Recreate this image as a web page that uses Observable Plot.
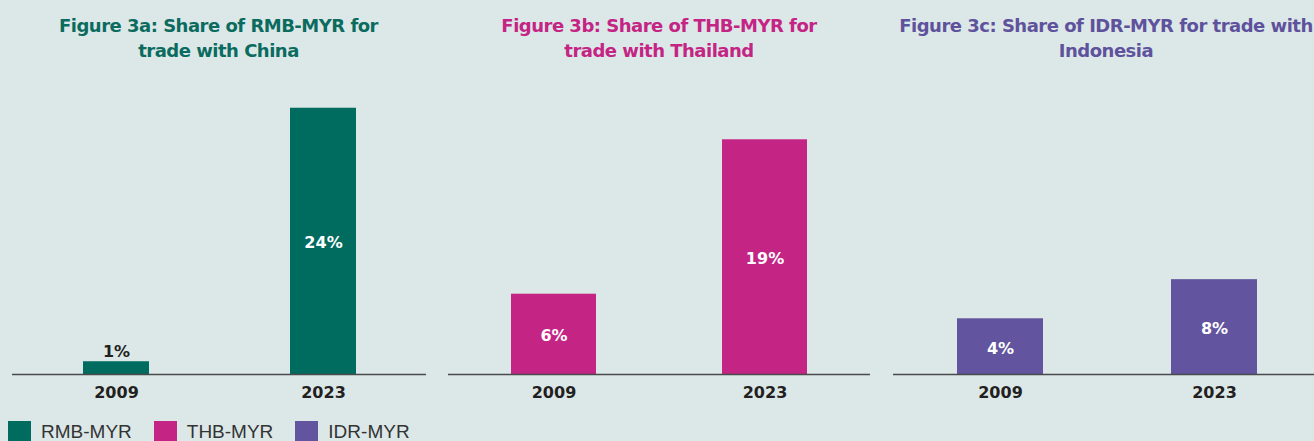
<!DOCTYPE html>
<html>
<head>
<meta charset="utf-8">
<script src="https://cdn.jsdelivr.net/npm/d3@7"></script>
<script src="https://cdn.jsdelivr.net/npm/@observablehq/plot@0.6"></script>
<style>
  html, body { margin: 0; padding: 0; background: #dce8e8; }
  #root { position: relative; width: 1314px; height: 441px; overflow: hidden; background: #dce8e8; }
  .title { position: absolute; top: 13px; width: 460px; text-align: center;
           font-family: "DejaVu Sans", sans-serif; font-weight: bold; font-size: 18px;
           letter-spacing: -0.5px; line-height: 25px; }
  .panel { position: absolute; top: 80px; }
  .panel svg { max-width: none !important; display: block; }
  .legend { position: absolute; left: 8px; top: 421px; display: flex; font-family: "Liberation Sans", Arial, sans-serif;
            font-size: 19px; color: #333; line-height: 19px; }
  .legend .item { display: flex; align-items: flex-start; margin-right: 22px; }
  .legend .sw { width: 23px; height: 23px; margin-right: 10px; }
  .legend span { position: relative; top: 1px; }
</style>
</head>
<body>
<div id="root"></div>
<script>
// ---- data ----
const years = ["2009", "2023"];
const rmbShare = [1.15, 24];
const thbShare = [6.5, 19];
const idrShare = [4.7, 8];
const rmbLabels = ["1%", "24%"];
const thbLabels = ["6%", "19%"];
const idrLabels = ["4%", "8%"];
const seriesNames = ["RMB-MYR", "THB-MYR", "IDR-MYR"];
const seriesColors = ["#006b5f", "#c42484", "#62549e"];
const titles = [
  ["Figure 3a: Share of RMB-MYR for", "trade with China"],
  ["Figure 3b: Share of THB-MYR for", "trade with Thailand"],
  ["Figure 3c: Share of IDR-MYR for trade with", "Indonesia"]
];

// ---- layout config ----
const panels = [
  {values: rmbShare, labels: rmbLabels, left: 11.5, width: 414, yMax: 26.5, pad: 0.682, titleColor: "#0b6b5f"},
  {values: thbShare, labels: thbLabels, left: 448, width: 422, yMax: 23.8, pad: 0.597, titleColor: "#c42484"},
  {values: idrShare, labels: idrLabels, left: 893, width: 428, yMax: 24.8, pad: 0.598, titleColor: "#5f529c"}
];
const titleCenters = [218.5, 659, 1106];

const root = document.getElementById("root");

panels.forEach((p, i) => {
  const t = document.createElement("div");
  t.className = "title";
  t.style.left = (titleCenters[i] - 230) + "px";
  t.style.color = p.titleColor;
  t.innerHTML = titles[i].join("<br>");
  root.appendChild(t);

  const data = years.map((y, j) => ({year: y, value: p.values[j], label: p.labels[j]}));
  const inside = data.filter(d => d.value >= 3);
  const above = data.filter(d => d.value < 3);

  const chart = Plot.plot({
    width: p.width,
    height: 325,
    marginLeft: 0,
    marginRight: 0,
    marginTop: 0,
    marginBottom: 31,
    style: {background: "transparent", fontFamily: "DejaVu Sans, sans-serif", fontSize: "16px", fontWeight: "bold", color: "#231f20", overflow: "visible", maxWidth: "none"},
    x: {domain: years, paddingInner: p.pad, paddingOuter: p.pad / 2, align: 0.5, tickSize: 0, tickPadding: 12, label: null},
    y: {domain: [0, p.yMax], axis: null},
    marks: [
      Plot.barY(data, {x: "year", y: "value", fill: seriesColors[i]}),
      Plot.text(inside, {x: "year", y: d => d.value / 2, text: "label", fill: "white", fontSize: 16, fontWeight: "bold", dy: 2}),
      Plot.text(above, {x: "year", y: "value", text: "label", fill: "#231f20", fontSize: 16, fontWeight: "bold", lineAnchor: "bottom", dy: -5}),
      Plot.ruleY([0], {stroke: "#4a4a4a", strokeWidth: 1.6})
    ]
  });
  const wrap = document.createElement("div");
  wrap.className = "panel";
  wrap.style.left = p.left + "px";
  wrap.style.width = p.width + "px";
  wrap.appendChild(chart);
  root.appendChild(wrap);
});

// legend
const legend = document.createElement("div");
legend.className = "legend";
seriesNames.forEach((name, i) => {
  const item = document.createElement("div");
  item.className = "item";
  const sw = document.createElement("div");
  sw.className = "sw";
  sw.style.background = seriesColors[i];
  const label = document.createElement("span");
  label.textContent = name;
  item.appendChild(sw);
  item.appendChild(label);
  legend.appendChild(item);
});
root.appendChild(legend);
</script>
</body>
</html>
